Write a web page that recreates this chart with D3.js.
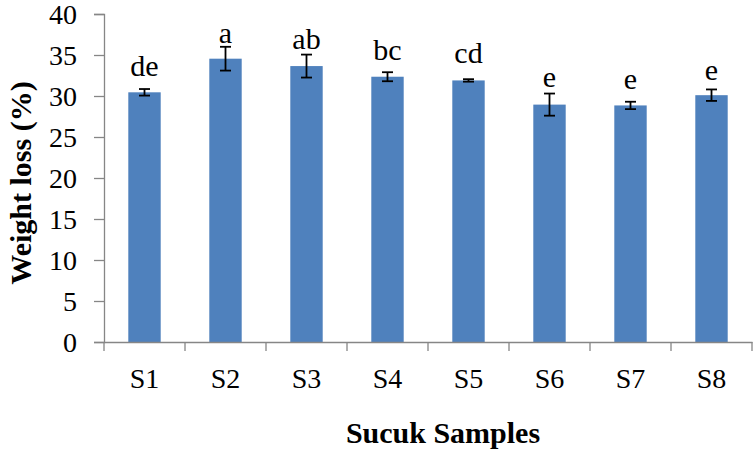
<!DOCTYPE html>
<html>
<head>
<meta charset="utf-8">
<script src="https://cdn.jsdelivr.net/npm/d3@7/dist/d3.min.js"></script>
<style>
  html, body { margin: 0; padding: 0; background: #fff; }
  svg { display: block; }
</style>
</head>
<body>
<svg id="chart" width="755" height="452"></svg>
<script>
const categories = ["S1", "S2", "S3", "S4", "S5", "S6", "S7", "S8"];
const values = [30.45, 34.55, 33.65, 32.35, 31.9, 28.95, 28.85, 30.1];
const errors = [0.4, 1.45, 1.4, 0.55, 0.15, 1.35, 0.45, 0.7];
const letters = ["de", "a", "ab", "bc", "cd", "e", "e", "e"];
const letterAt = [32.4, 36.5, 35.7, 34.4, 34.0, 31.05, 30.9, 32.0];
const yTicks = [0, 5, 10, 15, 20, 25, 30, 35, 40];

(function () {
const svg = d3.select("#chart");
const mLeft = 104, mRight = 752, mTop = 14, mBottom = 342;
const font = "'Liberation Serif', 'Times New Roman', serif";
const axisColor = "#868686";

const x = d3.scaleBand().domain(categories).range([mLeft, mRight]).paddingInner(0.6).paddingOuter(0.3);
const xOuter = d3.scaleBand().domain(categories).range([mLeft, mRight]);
const y = d3.scaleLinear().domain([0, 40]).range([mBottom, mTop]);

// Bars
svg.append("g").selectAll("rect").data(categories).join("rect")
  .attr("x", d => x(d))
  .attr("width", x.bandwidth())
  .attr("y", (d, i) => y(values[i]))
  .attr("height", (d, i) => y(0) - y(values[i]))
  .attr("fill", "#4F81BD");

// Error bars
const eb = svg.append("g").attr("stroke", "#000").attr("stroke-width", 1.8);
categories.forEach((c, i) => {
  const cx = x(c) + x.bandwidth() / 2;
  const hi = y(values[i] + errors[i]), lo = y(values[i] - errors[i]);
  eb.append("line").attr("x1", cx).attr("x2", cx).attr("y1", hi).attr("y2", lo);
  eb.append("line").attr("x1", cx - 5.5).attr("x2", cx + 5.5).attr("y1", hi).attr("y2", hi);
  eb.append("line").attr("x1", cx - 5.5).attr("x2", cx + 5.5).attr("y1", lo).attr("y2", lo);
});

// Letters
svg.append("g").selectAll("text").data(categories).join("text")
  .attr("x", d => x(d) + x.bandwidth() / 2)
  .attr("y", (d, i) => y(letterAt[i]))
  .attr("text-anchor", "middle")
  .attr("font-family", font)
  .attr("font-size", 30)
  .attr("fill", "#000")
  .text((d, i) => letters[i]);

// Y axis
const yAxis = svg.append("g").attr("transform", `translate(${mLeft},0)`)
  .call(d3.axisLeft(y).tickValues(yTicks).tickSize(10).tickPadding(17).tickFormat(d3.format("d")));
yAxis.select(".domain").attr("stroke", axisColor).attr("stroke-width", 1.3);
yAxis.selectAll(".tick line").attr("stroke", axisColor).attr("stroke-width", 1.3);
yAxis.selectAll(".tick text").attr("font-family", font).attr("font-size", 28).attr("fill", "#000").attr("dy", "0.34em");

// X axis
const xAxis = svg.append("g").attr("transform", `translate(0,${mBottom})`)
  .call(d3.axisBottom(xOuter).tickSize(0).tickPadding(0));
xAxis.select(".domain").attr("stroke", axisColor).attr("stroke-width", 1.3);
xAxis.selectAll(".tick text").attr("font-family", font).attr("font-size", 28).attr("fill", "#000")
  .attr("dy", 0).attr("y", 46);
const boundaries = categories.map(c => xOuter(c)).concat([mRight]);
xAxis.selectAll(".bnd").data(boundaries).join("line").attr("class", "bnd")
  .attr("x1", d => d).attr("x2", d => d).attr("y1", 0).attr("y2", 9)
  .attr("stroke", axisColor).attr("stroke-width", 1.3);

// Titles
svg.append("text").attr("x", 443).attr("y", 443).attr("text-anchor", "middle")
  .attr("font-family", font).attr("font-weight", "bold").attr("font-size", 30).text("Sucuk Samples");
svg.append("text").attr("transform", "translate(31,183) rotate(-90)").attr("text-anchor", "middle")
  .attr("font-family", font).attr("font-weight", "bold").attr("font-size", 30).text("Weight loss (%)");
})();
</script>
</body>
</html>
